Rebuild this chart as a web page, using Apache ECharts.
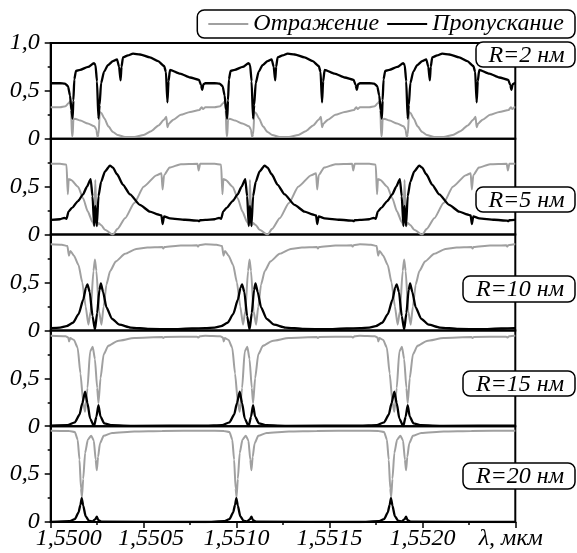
<!DOCTYPE html>
<html><head><meta charset="utf-8">
<script src="https://cdn.jsdelivr.net/npm/echarts@6/dist/echarts.min.js"></script>
<style>html,body{margin:0;padding:0;background:#fff}#c{width:577px;height:553px}</style>
</head><body><div id="c"></div>
<script>
// Tick labels, panel labels, legend names
const xTickLabels = ['1,5500','1,5505','1,5510','1,5515','1,5520','λ, мкм'];
const yTickLabels = ['0','0,5','1,0'];
const panelLabels = ['R=2 нм','R=5 нм','R=10 нм','R=15 нм','R=20 нм'];
const seriesNames = ['Отражение','Пропускание'];

// [wavelength (мкм), value]
const R2_TRANS = [[1.550000,0.58],[1.550050,0.58],[1.550077,0.575],[1.550093,0.55],[1.550104,0.45],[1.550112,0.30],[1.550118,0.21],[1.550122,0.40],[1.550127,0.62],[1.550136,0.71],[1.550158,0.72],[1.550201,0.75],[1.550233,0.79],[1.550241,0.77],[1.550249,0.60],[1.550257,0.21],[1.550263,0.35],[1.550271,0.58],[1.550287,0.70],[1.550308,0.77],[1.550335,0.81],[1.550357,0.83],[1.550368,0.75],[1.550376,0.61],[1.550381,0.75],[1.550389,0.85],[1.550416,0.87],[1.550443,0.89],[1.550481,0.88],[1.550534,0.85],[1.550578,0.81],[1.550610,0.76],[1.550620,0.70],[1.550628,0.38],[1.550634,0.60],[1.550642,0.72],[1.550696,0.68],[1.550750,0.64],[1.550798,0.615],[1.550809,0.56],[1.550815,0.51],[1.550822,0.57],
[1.550832,0.58],[1.550882,0.58],[1.550909,0.575],[1.550925,0.55],[1.550936,0.45],[1.550944,0.30],[1.550950,0.21],[1.550954,0.40],[1.550959,0.62],[1.550968,0.71],[1.550990,0.72],[1.551033,0.75],[1.551065,0.79],[1.551073,0.77],[1.551081,0.60],[1.551089,0.21],[1.551095,0.35],[1.551103,0.58],[1.551119,0.70],[1.551140,0.77],[1.551167,0.81],[1.551189,0.83],[1.551200,0.75],[1.551208,0.61],[1.551213,0.75],[1.551221,0.85],[1.551248,0.87],[1.551275,0.89],[1.551313,0.88],[1.551366,0.85],[1.551410,0.81],[1.551442,0.76],[1.551452,0.70],[1.551460,0.38],[1.551466,0.60],[1.551474,0.72],[1.551528,0.68],[1.551582,0.64],[1.551630,0.615],[1.551641,0.56],[1.551647,0.51],[1.551654,0.57],
[1.551664,0.58],[1.551714,0.58],[1.551741,0.575],[1.551757,0.55],[1.551768,0.45],[1.551776,0.30],[1.551782,0.21],[1.551786,0.40],[1.551791,0.62],[1.551800,0.71],[1.551822,0.72],[1.551865,0.75],[1.551897,0.79],[1.551905,0.77],[1.551913,0.60],[1.551921,0.21],[1.551927,0.35],[1.551935,0.58],[1.551951,0.70],[1.551972,0.77],[1.551999,0.81],[1.552021,0.83],[1.552032,0.75],[1.552040,0.61],[1.552045,0.75],[1.552053,0.85],[1.552080,0.87],[1.552107,0.89],[1.552145,0.88],[1.552198,0.85],[1.552242,0.81],[1.552274,0.76],[1.552284,0.70],[1.552292,0.38],[1.552298,0.60],[1.552306,0.72],[1.552360,0.68],[1.552414,0.64],[1.552462,0.615],[1.552473,0.56],[1.552479,0.51],[1.552486,0.57],
[1.552496,0.58],[1.552500,0.58]];

const R2_REFL = [[1.550000,0.33],[1.550050,0.33],[1.550080,0.34],[1.550095,0.37],[1.550105,0.39],[1.550110,0.30],[1.550114,0.03],[1.550118,0.03],[1.550122,0.20],[1.550130,0.21],[1.550160,0.19],[1.550200,0.16],[1.550235,0.13],[1.550245,0.10],[1.550252,0.02],[1.550258,0.05],[1.550264,0.28],[1.550272,0.27],[1.550290,0.21],[1.550310,0.13],[1.550335,0.07],[1.550360,0.04],[1.550400,0.02],[1.550450,0.02],[1.550500,0.04],[1.550540,0.08],[1.550580,0.14],[1.550610,0.20],[1.550622,0.23],[1.550628,0.12],[1.550636,0.16],[1.550660,0.20],[1.550700,0.25],[1.550750,0.28],[1.550800,0.30],[1.550812,0.33],[1.550820,0.31],
[1.550832,0.33],[1.550882,0.33],[1.550912,0.34],[1.550927,0.37],[1.550937,0.39],[1.550942,0.30],[1.550946,0.03],[1.550950,0.03],[1.550954,0.20],[1.550962,0.21],[1.550992,0.19],[1.551032,0.16],[1.551067,0.13],[1.551077,0.10],[1.551084,0.02],[1.551090,0.05],[1.551096,0.28],[1.551104,0.27],[1.551122,0.21],[1.551142,0.13],[1.551167,0.07],[1.551192,0.04],[1.551232,0.02],[1.551282,0.02],[1.551332,0.04],[1.551372,0.08],[1.551412,0.14],[1.551442,0.20],[1.551454,0.23],[1.551460,0.12],[1.551468,0.16],[1.551492,0.20],[1.551532,0.25],[1.551582,0.28],[1.551632,0.30],[1.551644,0.33],[1.551652,0.31],
[1.551664,0.33],[1.551714,0.33],[1.551744,0.34],[1.551759,0.37],[1.551769,0.39],[1.551774,0.30],[1.551778,0.03],[1.551782,0.03],[1.551786,0.20],[1.551794,0.21],[1.551824,0.19],[1.551864,0.16],[1.551899,0.13],[1.551909,0.10],[1.551916,0.02],[1.551922,0.05],[1.551928,0.28],[1.551936,0.27],[1.551954,0.21],[1.551974,0.13],[1.551999,0.07],[1.552024,0.04],[1.552064,0.02],[1.552114,0.02],[1.552164,0.04],[1.552204,0.08],[1.552244,0.14],[1.552274,0.20],[1.552286,0.23],[1.552292,0.12],[1.552300,0.16],[1.552324,0.20],[1.552364,0.25],[1.552414,0.28],[1.552464,0.30],[1.552476,0.33],[1.552484,0.31],
[1.552496,0.33],[1.552500,0.33]];

const R5_TRANS = [[1.550000,0.153],[1.550050,0.16],[1.550074,0.175],[1.550085,0.165],[1.550096,0.24],[1.550115,0.28],[1.550147,0.35],[1.550174,0.42],[1.550195,0.50],[1.550215,0.58],[1.550225,0.40],[1.550234,0.09],[1.550240,0.30],[1.550248,0.09],[1.550257,0.40],[1.550271,0.55],[1.550292,0.66],[1.550319,0.72],[1.550335,0.70],[1.550357,0.63],[1.550389,0.52],[1.550427,0.42],[1.550480,0.31],[1.550534,0.24],[1.550578,0.21],[1.550596,0.20],[1.550602,0.11],[1.550610,0.19],[1.550642,0.17],[1.550723,0.155],[1.550793,0.145],[1.550798,0.14],[1.550804,0.15],
[1.550832,0.153],[1.550882,0.16],[1.550906,0.175],[1.550917,0.165],[1.550928,0.24],[1.550947,0.28],[1.550979,0.35],[1.551006,0.42],[1.551027,0.50],[1.551047,0.58],[1.551057,0.40],[1.551066,0.09],[1.551072,0.30],[1.551080,0.09],[1.551089,0.40],[1.551103,0.55],[1.551124,0.66],[1.551151,0.72],[1.551167,0.70],[1.551189,0.63],[1.551221,0.52],[1.551259,0.42],[1.551312,0.31],[1.551366,0.24],[1.551410,0.21],[1.551428,0.20],[1.551434,0.11],[1.551442,0.19],[1.551474,0.17],[1.551555,0.155],[1.551625,0.145],[1.551630,0.14],[1.551636,0.15],
[1.551664,0.153],[1.551714,0.16],[1.551738,0.175],[1.551749,0.165],[1.551760,0.24],[1.551779,0.28],[1.551811,0.35],[1.551838,0.42],[1.551859,0.50],[1.551879,0.58],[1.551889,0.40],[1.551898,0.09],[1.551904,0.30],[1.551912,0.09],[1.551921,0.40],[1.551935,0.55],[1.551956,0.66],[1.551983,0.72],[1.551999,0.70],[1.552021,0.63],[1.552053,0.52],[1.552091,0.42],[1.552144,0.31],[1.552198,0.24],[1.552242,0.21],[1.552260,0.20],[1.552266,0.11],[1.552274,0.19],[1.552306,0.17],[1.552387,0.155],[1.552457,0.145],[1.552462,0.14],[1.552468,0.15],
[1.552496,0.153],[1.552500,0.153]];

const R5_REFL = [[1.550000,0.74],[1.550050,0.74],[1.550085,0.73],[1.550092,0.42],[1.550097,0.58],[1.550110,0.57],[1.550147,0.50],[1.550174,0.38],[1.550200,0.24],[1.550225,0.13],[1.550234,0.10],[1.550240,0.57],[1.550248,0.09],[1.550257,0.12],[1.550271,0.10],[1.550292,0.05],[1.550335,0.00],[1.550360,0.06],[1.550400,0.17],[1.550450,0.33],[1.550500,0.50],[1.550570,0.62],[1.550596,0.64],[1.550602,0.47],[1.550610,0.62],[1.550640,0.70],[1.550700,0.735],[1.550790,0.74],[1.550796,0.67],[1.550804,0.74],
[1.550832,0.74],[1.550882,0.74],[1.550917,0.73],[1.550924,0.42],[1.550929,0.58],[1.550942,0.57],[1.550979,0.50],[1.551006,0.38],[1.551032,0.24],[1.551057,0.13],[1.551066,0.10],[1.551072,0.57],[1.551080,0.09],[1.551089,0.12],[1.551103,0.10],[1.551124,0.05],[1.551167,0.00],[1.551192,0.06],[1.551232,0.17],[1.551282,0.33],[1.551332,0.50],[1.551402,0.62],[1.551428,0.64],[1.551434,0.47],[1.551442,0.62],[1.551472,0.70],[1.551532,0.735],[1.551622,0.74],[1.551628,0.67],[1.551636,0.74],
[1.551664,0.74],[1.551714,0.74],[1.551749,0.73],[1.551756,0.42],[1.551761,0.58],[1.551774,0.57],[1.551811,0.50],[1.551838,0.38],[1.551864,0.24],[1.551889,0.13],[1.551898,0.10],[1.551904,0.57],[1.551912,0.09],[1.551921,0.12],[1.551935,0.10],[1.551956,0.05],[1.551999,0.00],[1.552024,0.06],[1.552064,0.17],[1.552114,0.33],[1.552164,0.50],[1.552234,0.62],[1.552260,0.64],[1.552266,0.47],[1.552274,0.62],[1.552304,0.70],[1.552364,0.735],[1.552454,0.74],[1.552460,0.67],[1.552468,0.74],
[1.552496,0.74],[1.552500,0.74]];

const R10_TRANS = [[1.550000,0.024],[1.550050,0.03],[1.550085,0.045],[1.550120,0.08],[1.550150,0.17],[1.550175,0.32],[1.550190,0.45],[1.550198,0.48],[1.550210,0.40],[1.550225,0.15],[1.550238,0.01],[1.550250,0.18],[1.550262,0.42],[1.550270,0.49],[1.550282,0.40],[1.550300,0.24],[1.550330,0.12],[1.550370,0.06],[1.550430,0.03],[1.550530,0.015],[1.550650,0.012],[1.550760,0.02],
[1.550832,0.024],[1.550882,0.03],[1.550917,0.045],[1.550952,0.08],[1.550982,0.17],[1.551007,0.32],[1.551022,0.45],[1.551030,0.48],[1.551042,0.40],[1.551057,0.15],[1.551070,0.01],[1.551082,0.18],[1.551094,0.42],[1.551102,0.49],[1.551114,0.40],[1.551132,0.24],[1.551162,0.12],[1.551202,0.06],[1.551262,0.03],[1.551362,0.015],[1.551482,0.012],[1.551592,0.02],
[1.551664,0.024],[1.551714,0.03],[1.551749,0.045],[1.551784,0.08],[1.551814,0.17],[1.551839,0.32],[1.551854,0.45],[1.551862,0.48],[1.551874,0.40],[1.551889,0.15],[1.551902,0.01],[1.551914,0.18],[1.551926,0.42],[1.551934,0.49],[1.551946,0.40],[1.551964,0.24],[1.551994,0.12],[1.552034,0.06],[1.552094,0.03],[1.552194,0.015],[1.552314,0.012],[1.552424,0.02],
[1.552496,0.024],[1.552500,0.024]];

const R10_REFL = [[1.550000,0.90],[1.550060,0.895],[1.550090,0.88],[1.550098,0.78],[1.550106,0.83],[1.550125,0.78],[1.550150,0.68],[1.550170,0.50],[1.550188,0.25],[1.550203,0.06],[1.550215,0.20],[1.550230,0.62],[1.550238,0.74],[1.550246,0.62],[1.550260,0.20],[1.550273,0.06],[1.550285,0.25],[1.550300,0.48],[1.550320,0.62],[1.550350,0.72],[1.550400,0.80],[1.550460,0.85],[1.550520,0.865],[1.550600,0.87],[1.550606,0.855],[1.550612,0.87],[1.550700,0.885],[1.550787,0.89],[1.550792,0.875],[1.550798,0.89],
[1.550832,0.90],[1.550892,0.895],[1.550922,0.88],[1.550930,0.78],[1.550938,0.83],[1.550957,0.78],[1.550982,0.68],[1.551002,0.50],[1.551020,0.25],[1.551035,0.06],[1.551047,0.20],[1.551062,0.62],[1.551070,0.74],[1.551078,0.62],[1.551092,0.20],[1.551105,0.06],[1.551117,0.25],[1.551132,0.48],[1.551152,0.62],[1.551182,0.72],[1.551232,0.80],[1.551292,0.85],[1.551352,0.865],[1.551432,0.87],[1.551438,0.855],[1.551444,0.87],[1.551532,0.885],[1.551619,0.89],[1.551624,0.875],[1.551630,0.89],
[1.551664,0.90],[1.551724,0.895],[1.551754,0.88],[1.551762,0.78],[1.551770,0.83],[1.551789,0.78],[1.551814,0.68],[1.551834,0.50],[1.551852,0.25],[1.551867,0.06],[1.551879,0.20],[1.551894,0.62],[1.551902,0.74],[1.551910,0.62],[1.551924,0.20],[1.551937,0.06],[1.551949,0.25],[1.551964,0.48],[1.551984,0.62],[1.552014,0.72],[1.552064,0.80],[1.552124,0.85],[1.552184,0.865],[1.552264,0.87],[1.552270,0.855],[1.552276,0.87],[1.552364,0.885],[1.552451,0.89],[1.552456,0.875],[1.552462,0.89],
[1.552496,0.90],[1.552500,0.90]];

const R15_TRANS = [[1.550000,0.005],[1.550090,0.01],[1.550130,0.04],[1.550155,0.12],[1.550170,0.24],[1.550185,0.36],[1.550198,0.24],[1.550212,0.08],[1.550233,0.0],[1.550246,0.10],[1.550257,0.22],[1.550268,0.10],[1.550288,0.03],[1.550330,0.01],[1.550450,0.004],
[1.550832,0.005],[1.550922,0.01],[1.550962,0.04],[1.550987,0.12],[1.551002,0.24],[1.551017,0.36],[1.551030,0.24],[1.551044,0.08],[1.551065,0.0],[1.551078,0.10],[1.551089,0.22],[1.551100,0.10],[1.551120,0.03],[1.551162,0.01],[1.551282,0.004],
[1.551664,0.005],[1.551754,0.01],[1.551794,0.04],[1.551819,0.12],[1.551834,0.24],[1.551849,0.36],[1.551862,0.24],[1.551876,0.08],[1.551897,0.0],[1.551910,0.10],[1.551921,0.22],[1.551932,0.10],[1.551952,0.03],[1.551994,0.01],[1.552114,0.004],
[1.552496,0.005],[1.552500,0.005]];

const R15_REFL = [[1.550000,0.945],[1.550080,0.94],[1.550095,0.925],[1.550099,0.885],[1.550105,0.92],[1.550125,0.90],[1.550145,0.82],[1.550160,0.55],[1.550175,0.25],[1.550185,0.15],[1.550198,0.40],[1.550212,0.78],[1.550226,0.83],[1.550238,0.70],[1.550250,0.40],[1.550257,0.24],[1.550268,0.50],[1.550285,0.75],[1.550310,0.84],[1.550360,0.89],[1.550450,0.92],[1.550600,0.93],[1.550606,0.92],[1.550612,0.93],[1.550787,0.935],[1.550795,0.925],[1.550803,0.94],
[1.550832,0.945],[1.550912,0.94],[1.550927,0.925],[1.550931,0.885],[1.550937,0.92],[1.550957,0.90],[1.550977,0.82],[1.550992,0.55],[1.551007,0.25],[1.551017,0.15],[1.551030,0.40],[1.551044,0.78],[1.551058,0.83],[1.551070,0.70],[1.551082,0.40],[1.551089,0.24],[1.551100,0.50],[1.551117,0.75],[1.551142,0.84],[1.551192,0.89],[1.551282,0.92],[1.551432,0.93],[1.551438,0.92],[1.551444,0.93],[1.551619,0.935],[1.551627,0.925],[1.551635,0.94],
[1.551664,0.945],[1.551744,0.94],[1.551759,0.925],[1.551763,0.885],[1.551769,0.92],[1.551789,0.90],[1.551809,0.82],[1.551824,0.55],[1.551839,0.25],[1.551849,0.15],[1.551862,0.40],[1.551876,0.78],[1.551890,0.83],[1.551902,0.70],[1.551914,0.40],[1.551921,0.24],[1.551932,0.50],[1.551949,0.75],[1.551974,0.84],[1.552024,0.89],[1.552114,0.92],[1.552264,0.93],[1.552270,0.92],[1.552276,0.93],[1.552451,0.935],[1.552459,0.925],[1.552467,0.94],
[1.552496,0.945],[1.552500,0.945]];

const R20_TRANS = [[1.550000,0.0],[1.550100,0.008],[1.550130,0.03],[1.550150,0.10],[1.550160,0.18],[1.550167,0.25],[1.550175,0.17],[1.550188,0.06],[1.550205,0.015],[1.550225,0.005],[1.550240,0.03],[1.550248,0.055],[1.550256,0.02],[1.550275,0.003],
[1.550832,0.0],[1.550932,0.008],[1.550962,0.03],[1.550982,0.10],[1.550992,0.18],[1.550999,0.25],[1.551007,0.17],[1.551020,0.06],[1.551037,0.015],[1.551057,0.005],[1.551072,0.03],[1.551080,0.055],[1.551088,0.02],[1.551107,0.003],
[1.551664,0.0],[1.551764,0.008],[1.551794,0.03],[1.551814,0.10],[1.551824,0.18],[1.551831,0.25],[1.551839,0.17],[1.551852,0.06],[1.551869,0.015],[1.551889,0.005],[1.551904,0.03],[1.551912,0.055],[1.551920,0.02],[1.551939,0.003],
[1.552496,0.0],[1.552500,0.0]];

const R20_REFL = [[1.550000,0.953],[1.550100,0.95],[1.550130,0.94],[1.550145,0.86],[1.550155,0.65],[1.550163,0.35],[1.550168,0.26],[1.550175,0.45],[1.550185,0.72],[1.550200,0.86],[1.550218,0.90],[1.550232,0.85],[1.550242,0.65],[1.550248,0.54],[1.550255,0.68],[1.550265,0.82],[1.550285,0.90],[1.550330,0.93],[1.550450,0.945],[1.550600,0.95],
[1.550832,0.953],[1.550932,0.95],[1.550962,0.94],[1.550977,0.86],[1.550987,0.65],[1.550995,0.35],[1.551000,0.26],[1.551007,0.45],[1.551017,0.72],[1.551032,0.86],[1.551050,0.90],[1.551064,0.85],[1.551074,0.65],[1.551080,0.54],[1.551087,0.68],[1.551097,0.82],[1.551117,0.90],[1.551162,0.93],[1.551282,0.945],[1.551432,0.95],
[1.551664,0.953],[1.551764,0.95],[1.551794,0.94],[1.551809,0.86],[1.551819,0.65],[1.551827,0.35],[1.551832,0.26],[1.551839,0.45],[1.551849,0.72],[1.551864,0.86],[1.551882,0.90],[1.551896,0.85],[1.551906,0.65],[1.551912,0.54],[1.551919,0.68],[1.551929,0.82],[1.551949,0.90],[1.551994,0.93],[1.552114,0.945],[1.552264,0.95],
[1.552496,0.953],[1.552500,0.953]];

const panels = [[R2_REFL,R2_TRANS],[R5_REFL,R5_TRANS],[R10_REFL,R10_TRANS],[R15_REFL,R15_TRANS],[R20_REFL,R20_TRANS]];

const FONT = 'Liberation Serif';
const GRID_TOP = 43, GRID_H = 95.8, N = panels.length;
const GRAY = '#a0a0a0', BLACK = '#000';

const labelFont = {fontFamily: FONT, fontStyle: 'italic', fontSize: 24, color: '#000'};

function xFormatter(v) {
  const k = Math.round((v - 1.55) / 0.0005);
  const t = xTickLabels[k] || '';
  if (k === 0) return '{a|' + t + '}';
  if (k === 1) return '{b|' + t + '}';
  if (k === 5) return '{c|' + t + '}';
  return '{n|' + t + '}';
}

const grid = panels.map((p, i) => ({
  left: 50.7, right: 61.7, top: GRID_TOP + i * GRID_H, height: GRID_H,
  show: true, borderColor: '#000', borderWidth: 2, backgroundColor: 'transparent'
}));

const xAxis = panels.map((p, i) => ({
  gridIndex: i, type: 'value', min: 1.55, max: 1.5525, interval: 0.0005,
  axisLine: {show: i === N - 1, onZero: false, lineStyle: {color: '#000', width: 2}},
  axisTick: {show: i === N - 1, length: 6, lineStyle: {color: '#000', width: 1.5}},
  minorTick: {show: i === N - 1, splitNumber: 2, length: 3, lineStyle: {color: '#000', width: 1.5}},
  splitLine: {show: false}, minorSplitLine: {show: false},
  axisLabel: Object.assign({show: i === N - 1, margin: 5, formatter: xFormatter,
    rich: {
      a: Object.assign({padding: [0, 0, 0, 36]}, labelFont),
      b: Object.assign({padding: [0, 0, 0, 15]}, labelFont),
      c: Object.assign({padding: [0, 9, 0, 0]}, labelFont),
      n: Object.assign({}, labelFont)
    }}, labelFont)
}));

const yAxis = panels.map((p, i) => ({
  gridIndex: i, type: 'value', min: 0, max: 1, interval: 0.5,
  axisLine: {show: true, lineStyle: {color: '#000', width: 2}},
  axisTick: {show: true, length: 6, lineStyle: {color: '#000', width: 1.5}},
  minorTick: {show: true, splitNumber: 2, length: 3, lineStyle: {color: '#000', width: 1.5}},
  splitLine: {show: false}, minorSplitLine: {show: false},
  axisLabel: Object.assign({margin: 11,
    formatter: v => (i > 0 && v > 0.99) ? '' : yTickLabels[Math.round(v * 2)]
  }, labelFont)
}));

const series = [];
panels.forEach((p, i) => {
  series.push({name: seriesNames[0], type: 'line', xAxisIndex: i, yAxisIndex: i, data: p[0],
    symbol: 'none', smooth: 0.2, smoothMonotone: 'x', z: 2,
    lineStyle: {color: GRAY, width: 2}, itemStyle: {color: GRAY}});
  series.push({name: seriesNames[1], type: 'line', xAxisIndex: i, yAxisIndex: i, data: p[1],
    symbol: 'none', smooth: 0.2, smoothMonotone: 'x', z: 3,
    lineStyle: {color: BLACK, width: 2.3}, itemStyle: {color: BLACK}});
});

const boxes = [[476,42,99,25],[476,187,99,25],[463,276,112,26],[463,371,112,25],[463,463,112,26]];
const graphic = [];
boxes.forEach((b, i) => {
  graphic.push({type: 'rect', z: 100, shape: {x: b[0], y: b[1], width: b[2], height: b[3], r: 7},
    style: {fill: '#fff', stroke: '#000', lineWidth: 1.5}});
  graphic.push({type: 'text', z: 101, style: {x: b[0] + b[2] / 2 + 1, y: b[1] + b[3] / 2 + 1, text: panelLabels[i],
    font: 'italic 24px Liberation Serif', fill: '#000', align: 'center', verticalAlign: 'middle'}});
});

const chart = echarts.init(document.getElementById('c'), null, {renderer: 'canvas'});
chart.setOption({
  animation: false,
  backgroundColor: '#fff',
  legend: {data: seriesNames.map(n => ({name: n, icon: 'rect'})), right: 2, top: 10,
    itemWidth: 40, itemHeight: 2, itemGap: 8,
    padding: [2, 11, 2, 11], borderColor: '#000', borderWidth: 1.5, borderRadius: 7,
    backgroundColor: '#fff', selectedMode: false,
    textStyle: {fontFamily: FONT, fontStyle: 'italic', fontSize: 24, color: '#000'}},
  grid, xAxis, yAxis, series, graphic
});
</script></body></html>
